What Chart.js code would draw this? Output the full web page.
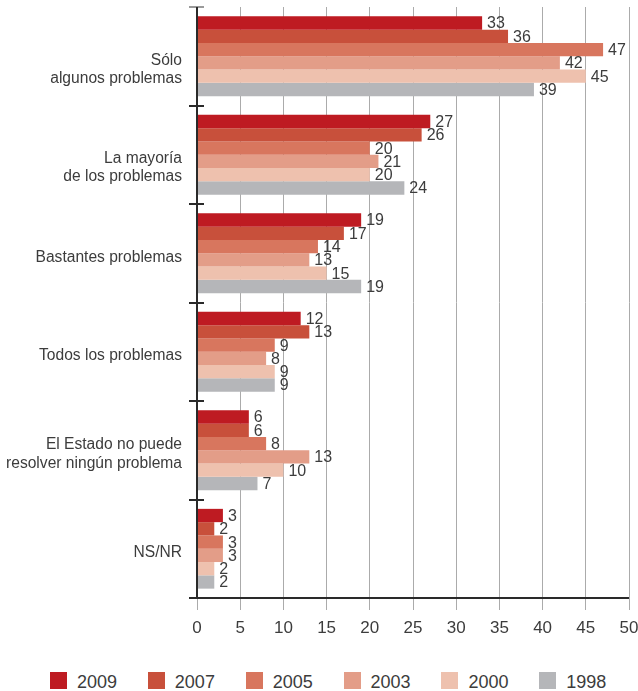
<!DOCTYPE html>
<html>
<head>
<meta charset="utf-8">
<script src="https://cdn.jsdelivr.net/npm/chart.js@4/dist/chart.umd.min.js"></script>
<style>
  html, body { margin: 0; padding: 0; background: #fff; }
  #wrap { position: relative; width: 638px; height: 691px; }
  #c { position: absolute; left: 0; top: 0; }
  #legend { position: absolute; left: 50px; top: 671px; display: flex; font-family: "Liberation Sans", Arial, sans-serif; font-size: 18px; color: #3c3c3c; }
  .item { display: flex; align-items: center; margin-right: 30.8px; height: 18px; }
  .box { width: 17px; height: 17px; margin-right: 10px; }
  .lbl { line-height: 18px; position: relative; top: 2px; }
</style>
</head>
<body>
<div id="wrap">
  <canvas id="c" width="638" height="662"></canvas>
  <div id="legend"></div>
</div>
<script>
const categories = [
  ["Sólo", "algunos problemas"],
  ["La mayoría", "de los problemas"],
  ["Bastantes problemas"],
  ["Todos los problemas"],
  ["El Estado no puede", "resolver ningún problema"],
  ["NS/NR"]
];
const seriesNames = ["2009", "2007", "2005", "2003", "2000", "1998"];
const seriesColors = ["#be1b22", "#c8503b", "#d8765e", "#e39d88", "#eec1ae", "#b5b6b9"];
const v2009 = [33, 27, 19, 12, 6, 3];
const v2007 = [36, 26, 17, 13, 6, 2];
const v2005 = [47, 20, 14, 9, 8, 3];
const v2003 = [42, 21, 13, 8, 13, 3];
const v2000 = [45, 20, 15, 9, 10, 2];
const v1998 = [39, 24, 19, 9, 7, 2];
const seriesValues = [v2009, v2007, v2005, v2003, v2000, v1998];
const xTicks = [0, 5, 10, 15, 20, 25, 30, 35, 40, 45, 50];

const FONT = "Liberation Sans, Arial, sans-serif";
const TEXT = "#3c3c3c";

const datasets = seriesNames.map((n, i) => ({
  label: n,
  data: seriesValues[i],
  backgroundColor: seriesColors[i],
  borderWidth: 0,
  barPercentage: 1.0,
  categoryPercentage: 0.81
}));

const valueLabels = {
  id: 'valueLabels',
  afterDatasetsDraw(chart) {
    const ctx = chart.ctx;
    ctx.save();
    ctx.font = "16px " + FONT;
    ctx.fillStyle = TEXT;
    ctx.textAlign = 'left';
    ctx.textBaseline = 'middle';
    chart.data.datasets.forEach((ds, di) => {
      const meta = chart.getDatasetMeta(di);
      meta.data.forEach((bar, i) => {
        ctx.fillText(String(ds.data[i]), bar.x + 5, bar.y + 1);
      });
    });
    ctx.restore();
  }
};

const axisDecor = {
  id: 'axisDecor',
  afterDraw(chart) {
    const ctx = chart.ctx;
    const a = chart.chartArea;
    const n = categories.length;
    const step = (a.bottom - a.top) / n;
    ctx.save();
    ctx.lineWidth = 2;
    for (let i = 0; i <= n; i++) {
      const yy = Math.round(a.top + i * step);
      ctx.strokeStyle = i === 0 ? '#9a9a9a' : '#2a2a2a';
      ctx.beginPath();
      ctx.moveTo(a.left - 8, yy);
      ctx.lineTo(a.left + 7, yy);
      ctx.stroke();
    }
    ctx.strokeStyle = '#2a2a2a';
    ctx.beginPath();
    ctx.moveTo(a.left, a.top);
    ctx.lineTo(a.left, a.bottom);
    ctx.lineTo(a.right, a.bottom);
    ctx.stroke();
    ctx.restore();
  }
};

new Chart(document.getElementById('c'), {
  type: 'bar',
  data: { labels: categories, datasets },
  options: {
    indexAxis: 'y',
    responsive: false,
    animation: false,
    layout: { padding: { top: 7, right: 9, left: 0, bottom: 0 } },
    plugins: { legend: { display: false }, tooltip: { enabled: false } },
    scales: {
      x: {
        min: 0, max: 50,
        afterBuildTicks(scale) { scale.ticks = xTicks.map(v => ({ value: v })); },
        afterFit(scale) {
          scale.height = 662 - 598;
          scale.paddingLeft = 0; scale.paddingRight = 0;
          scale.paddingTop = 0; scale.paddingBottom = 0;
        },
        grid: { color: '#ababab', lineWidth: 1, tickLength: 12, drawTicks: true, tickColor: '#ababab' },
        border: { display: false },
        ticks: { color: TEXT, font: { family: FONT, size: 17 }, padding: 8, maxRotation: 0 }
      },
      y: {
        afterFit(scale) {
          scale.width = 197;
          scale.paddingLeft = 0; scale.paddingRight = 0;
          scale.paddingTop = 0; scale.paddingBottom = 0;
        },
        grid: { display: false, drawTicks: false, tickLength: 0 },
        border: { display: false },
        ticks: {
          color: TEXT, font: { family: FONT, size: 15.6, lineHeight: 1.18 }, padding: 15, autoSkip: false,
          labelOffset: 4,
          callback(value, index) {
            const l = categories[index];
            return (l.length > 1 && index < 2) ? [""].concat(l) : l;
          }
        }
      }
    }
  },
  plugins: [valueLabels, axisDecor]
});

const leg = document.getElementById('legend');
seriesNames.forEach((n, i) => {
  const it = document.createElement('div');
  it.className = 'item';
  const b = document.createElement('div');
  b.className = 'box';
  b.style.background = seriesColors[i];
  const t = document.createElement('span');
  t.className = 'lbl';
  t.textContent = n;
  it.appendChild(b); it.appendChild(t);
  leg.appendChild(it);
});
</script>
</body>
</html>
